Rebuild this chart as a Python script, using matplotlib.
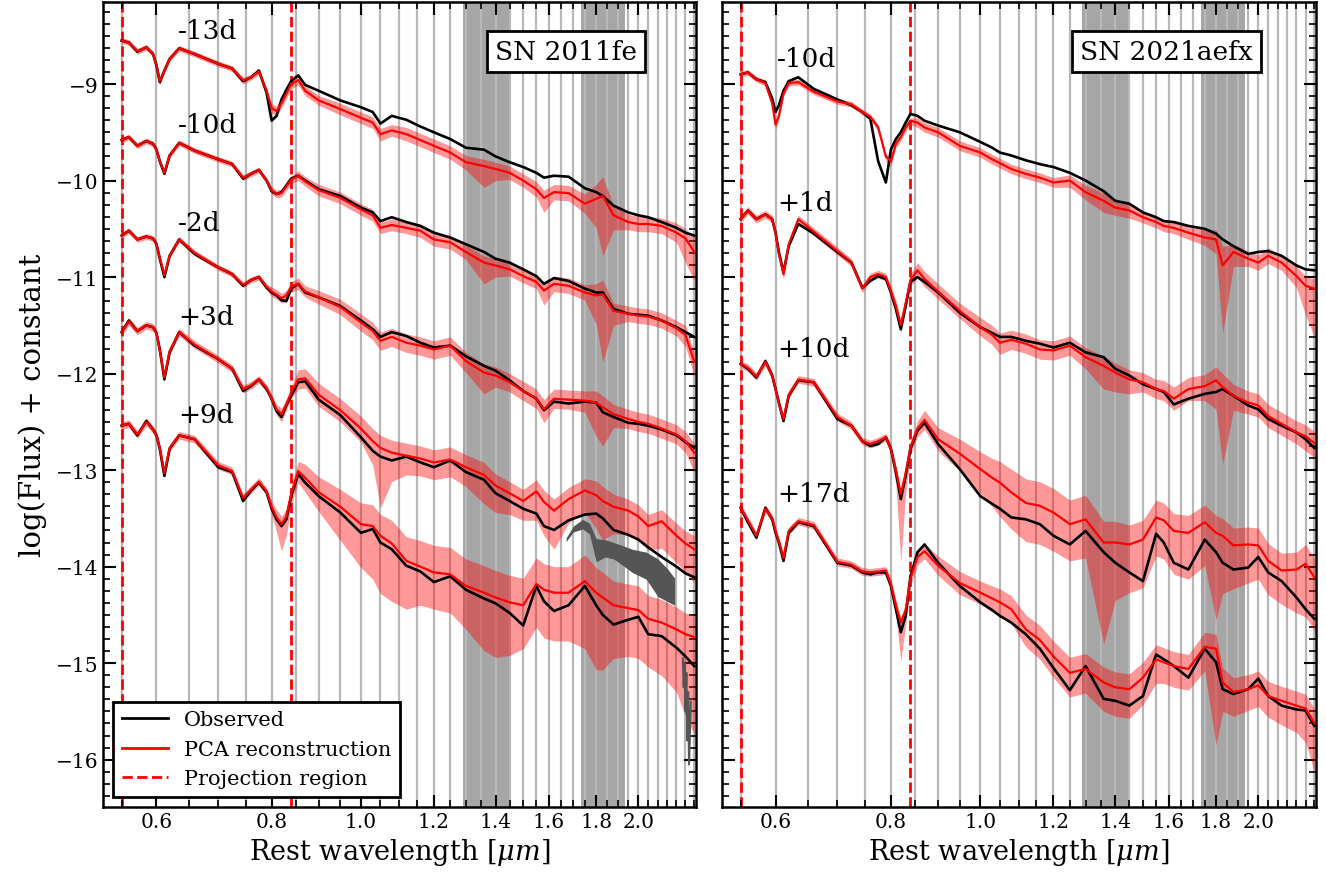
import numpy as np
import matplotlib
matplotlib.use("Agg")
import matplotlib.pyplot as plt
from matplotlib.lines import Line2D
from matplotlib.ticker import FixedLocator, FuncFormatter, MultipleLocator, NullFormatter

plt.rcParams['font.family'] = ['DejaVu Serif']
plt.rcParams['mathtext.fontset'] = 'dejavuserif'

# ---------------- data ----------------
lam = [0.55, 0.56, 0.572, 0.585, 0.595, 0.60, 0.605, 0.612, 0.62, 0.635,
       0.66, 0.70, 0.725, 0.745, 0.76, 0.775, 0.79, 0.80, 0.81, 0.82,
       0.83, 0.84, 0.855, 0.87, 0.90, 0.95, 1.00, 1.03, 1.05, 1.08,
       1.12, 1.16, 1.20, 1.25, 1.30, 1.36, 1.40, 1.45, 1.50, 1.55,
       1.58, 1.62, 1.68, 1.75, 1.80, 1.83, 1.88, 1.95, 2.00, 2.05,
       2.12, 2.20, 2.25, 2.30]

# SN 2011fe
fe_m13_obs = [-8.55, -8.57, -8.665, -8.62, -8.69, -8.81, -8.98, -8.86, -8.74, -8.63,
              -8.69, -8.79, -8.84, -8.97, -8.93, -8.86, -9.09, -9.38, -9.33, -9.16,
              -9.06, -8.97, -8.91, -9.01, -9.07, -9.17, -9.24, -9.29, -9.41, -9.33,
              -9.37, -9.44, -9.50, -9.57, -9.66, -9.68, -9.75, -9.81, -9.86, -9.92,
              -9.97, -9.95, -9.96, -10.08, -10.12, -10.16, -10.26, -10.33, -10.36, -10.38,
              -10.43, -10.49, -10.54, -10.57]
fe_m13_pca = [-8.55, -8.57, -8.66, -8.62, -8.69, -8.80, -8.97, -8.86, -8.74, -8.63,
              -8.69, -8.79, -8.84, -8.96, -8.93, -8.87, -9.07, -9.25, -9.28, -9.20,
              -9.10, -9.00, -8.96, -9.07, -9.17, -9.26, -9.35, -9.40, -9.52, -9.48,
              -9.52, -9.58, -9.64, -9.71, -9.81, -9.85, -9.88, -9.92, -10.00, -10.09,
              -10.18, -10.12, -10.13, -10.24, -10.19, -10.16, -10.36, -10.43, -10.45, -10.45,
              -10.47, -10.54, -10.60, -10.74]
fe_m13_lo = [0.03, 0.03, 0.03, 0.03, 0.03, 0.03, 0.04, 0.03, 0.03, 0.03,
             0.03, 0.03, 0.03, 0.04, 0.03, 0.03, 0.04, 0.05, 0.05, 0.05,
             0.05, 0.05, 0.05, 0.05, 0.05, 0.06, 0.06, 0.06, 0.07, 0.06,
             0.07, 0.07, 0.07, 0.07, 0.08, 0.22, 0.12, 0.07, 0.07, 0.08,
             0.15, 0.08, 0.08, 0.10, 0.30, 0.62, 0.15, 0.08, 0.08, 0.08,
             0.08, 0.10, 0.25, 0.30]
fe_m13_hi = [0.03, 0.03, 0.03, 0.03, 0.03, 0.03, 0.03, 0.03, 0.03, 0.03,
             0.03, 0.03, 0.03, 0.03, 0.03, 0.03, 0.03, 0.05, 0.05, 0.05,
             0.05, 0.05, 0.05, 0.05, 0.05, 0.06, 0.06, 0.06, 0.06, 0.06,
             0.07, 0.07, 0.07, 0.07, 0.07, 0.07, 0.07, 0.07, 0.07, 0.08,
             0.08, 0.08, 0.08, 0.10, 0.15, 0.20, 0.10, 0.08, 0.08, 0.08,
             0.08, 0.10, 0.10, 0.15]

fe_m10_obs = [-9.58, -9.55, -9.64, -9.59, -9.62, -9.68, -9.80, -9.93, -9.74, -9.61,
              -9.69, -9.78, -9.83, -9.98, -9.93, -9.89, -10.00, -10.11, -10.14, -10.12,
              -10.05, -9.98, -9.95, -10.00, -10.09, -10.16, -10.28, -10.33, -10.42, -10.38,
              -10.43, -10.47, -10.54, -10.59, -10.66, -10.74, -10.81, -10.85, -10.92, -10.99,
              -11.07, -11.01, -11.04, -11.12, -11.16, -11.16, -11.33, -11.38, -11.39, -11.40,
              -11.45, -11.52, -11.57, -11.62]
fe_m10_pca = [-9.58, -9.55, -9.64, -9.59, -9.62, -9.68, -9.80, -9.92, -9.74, -9.61,
              -9.69, -9.78, -9.83, -9.97, -9.93, -9.89, -10.00, -10.10, -10.14, -10.13,
              -10.06, -9.99, -9.95, -10.01, -10.10, -10.18, -10.30, -10.36, -10.49, -10.46,
              -10.49, -10.52, -10.61, -10.64, -10.74, -10.85, -10.88, -10.92, -10.99, -11.05,
              -11.14, -11.07, -11.09, -11.16, -11.19, -11.18, -11.35, -11.38, -11.40, -11.41,
              -11.45, -11.53, -11.60, -11.88]
fe_m10_lo = [0.03, 0.03, 0.03, 0.03, 0.03, 0.03, 0.03, 0.03, 0.03, 0.03,
             0.03, 0.03, 0.03, 0.03, 0.03, 0.03, 0.03, 0.04, 0.04, 0.04,
             0.04, 0.04, 0.05, 0.05, 0.06, 0.06, 0.06, 0.06, 0.06, 0.06,
             0.06, 0.07, 0.07, 0.07, 0.08, 0.22, 0.12, 0.07, 0.07, 0.07,
             0.15, 0.08, 0.08, 0.08, 0.30, 0.70, 0.15, 0.08, 0.08, 0.08,
             0.08, 0.08, 0.12, 0.15]
fe_m10_hi = [0.03, 0.03, 0.03, 0.03, 0.03, 0.03, 0.03, 0.03, 0.03, 0.03,
             0.03, 0.03, 0.03, 0.03, 0.03, 0.03, 0.03, 0.04, 0.04, 0.04,
             0.04, 0.04, 0.05, 0.05, 0.06, 0.06, 0.06, 0.06, 0.06, 0.06,
             0.06, 0.07, 0.07, 0.07, 0.07, 0.07, 0.07, 0.07, 0.07, 0.07,
             0.07, 0.08, 0.08, 0.08, 0.12, 0.15, 0.08, 0.08, 0.08, 0.08,
             0.08, 0.08, 0.10, 0.10]

fe_m2_obs = [-10.57, -10.52, -10.61, -10.58, -10.60, -10.66, -10.81, -11.00, -10.78, -10.61,
             -10.76, -10.90, -10.97, -11.09, -11.03, -11.00, -11.11, -11.16, -11.19, -11.24,
             -11.25, -11.12, -11.07, -11.16, -11.21, -11.30, -11.45, -11.54, -11.62, -11.57,
             -11.61, -11.68, -11.73, -11.71, -11.82, -11.92, -11.97, -12.07, -12.18, -12.26,
             -12.38, -12.29, -12.31, -12.29, -12.30, -12.40, -12.45, -12.51, -12.52, -12.54,
             -12.58, -12.64, -12.71, -12.77]
fe_m2_pca = [-10.57, -10.52, -10.61, -10.58, -10.60, -10.66, -10.80, -10.98, -10.78, -10.61,
             -10.75, -10.90, -10.97, -11.08, -11.03, -11.00, -11.10, -11.15, -11.18, -11.22,
             -11.19, -11.10, -11.07, -11.15, -11.21, -11.31, -11.47, -11.56, -11.66, -11.62,
             -11.68, -11.71, -11.75, -11.71, -11.87, -11.99, -12.02, -12.09, -12.18, -12.26,
             -12.37, -12.26, -12.27, -12.28, -12.30, -12.35, -12.42, -12.47, -12.50, -12.52,
             -12.57, -12.63, -12.70, -12.82]
fe_m2_lo = [0.03, 0.03, 0.03, 0.03, 0.03, 0.03, 0.03, 0.03, 0.03, 0.03,
            0.03, 0.03, 0.03, 0.03, 0.03, 0.03, 0.03, 0.05, 0.05, 0.05,
            0.05, 0.05, 0.06, 0.06, 0.07, 0.08, 0.09, 0.09, 0.10, 0.10,
            0.10, 0.10, 0.10, 0.10, 0.12, 0.22, 0.12, 0.10, 0.10, 0.10,
            0.14, 0.10, 0.10, 0.12, 0.35, 0.40, 0.14, 0.10, 0.10, 0.10,
            0.10, 0.10, 0.12, 0.20]
fe_m2_hi = [0.03, 0.03, 0.03, 0.03, 0.03, 0.03, 0.03, 0.03, 0.03, 0.03,
            0.03, 0.03, 0.03, 0.03, 0.03, 0.03, 0.03, 0.05, 0.05, 0.05,
            0.05, 0.05, 0.06, 0.06, 0.07, 0.08, 0.09, 0.09, 0.09, 0.09,
            0.09, 0.09, 0.09, 0.09, 0.09, 0.09, 0.09, 0.09, 0.10, 0.10,
            0.10, 0.10, 0.10, 0.10, 0.12, 0.12, 0.10, 0.10, 0.10, 0.10,
            0.10, 0.10, 0.10, 0.10]

fe_p3_obs = [-11.57, -11.45, -11.56, -11.50, -11.52, -11.58, -11.75, -12.06, -11.78, -11.57,
             -11.71, -11.85, -11.95, -12.18, -12.13, -12.06, -12.16, -12.26, -12.39, -12.45,
             -12.33, -12.23, -12.09, -12.08, -12.27, -12.43, -12.66, -12.80, -12.86, -12.90,
             -12.86, -12.92, -12.97, -12.90, -13.02, -13.10, -13.24, -13.32, -13.40, -13.45,
             -13.58, -13.62, -13.52, -13.46, -13.45, -13.50, -13.62, -13.67, -13.72, -13.80,
             -13.90, -14.00, -14.07, -14.11]
fe_p3_pca = [-11.57, -11.46, -11.56, -11.50, -11.52, -11.58, -11.76, -12.04, -11.77, -11.57,
             -11.70, -11.85, -11.95, -12.16, -12.12, -12.06, -12.15, -12.26, -12.37, -12.42,
             -12.32, -12.20, -12.06, -12.05, -12.22, -12.38, -12.57, -12.70, -12.77, -12.82,
             -12.85, -12.88, -12.92, -12.89, -12.97, -13.05, -13.16, -13.24, -13.32, -13.22,
             -13.33, -13.42, -13.30, -13.21, -13.26, -13.32, -13.38, -13.42, -13.48, -13.58,
             -13.53, -13.68, -13.76, -13.82]
fe_p3_lo = [0.04, 0.04, 0.04, 0.04, 0.04, 0.04, 0.04, 0.04, 0.04, 0.04,
            0.04, 0.04, 0.04, 0.04, 0.04, 0.04, 0.04, 0.05, 0.06, 0.08,
            0.06, 0.06, 0.10, 0.10, 0.12, 0.12, 0.14, 0.25, 0.62, 0.30,
            0.20, 0.18, 0.18, 0.18, 0.20, 0.30, 0.28, 0.22, 0.20, 0.30,
            0.35, 0.40, 0.25, 0.22, 0.35, 0.40, 0.28, 0.25, 0.25, 0.25,
            0.28, 0.28, 0.30, 0.35]
fe_p3_hi = [0.04, 0.04, 0.04, 0.04, 0.04, 0.04, 0.04, 0.04, 0.04, 0.04,
            0.04, 0.04, 0.04, 0.04, 0.04, 0.04, 0.04, 0.05, 0.05, 0.06,
            0.06, 0.06, 0.10, 0.10, 0.12, 0.12, 0.13, 0.13, 0.13, 0.13,
            0.13, 0.13, 0.13, 0.13, 0.13, 0.13, 0.12, 0.12, 0.12, 0.12,
            0.12, 0.12, 0.12, 0.12, 0.15, 0.15, 0.13, 0.12, 0.12, 0.12,
            0.12, 0.13, 0.13, 0.14]

fe_p9_obs = [-12.54, -12.52, -12.64, -12.49, -12.58, -12.64, -12.78, -13.06, -12.78, -12.64,
             -12.68, -12.97, -13.02, -13.32, -13.21, -13.13, -13.23, -13.40, -13.51, -13.58,
             -13.51, -13.27, -13.04, -13.13, -13.27, -13.44, -13.65, -13.61, -13.75, -13.82,
             -13.99, -14.05, -14.16, -14.10, -14.24, -14.33, -14.38, -14.48, -14.61, -14.20,
             -14.36, -14.46, -14.40, -14.20, -14.40, -14.50, -14.60, -14.55, -14.52, -14.70,
             -14.72, -14.84, -14.93, -15.03]
fe_p9_pca = [-12.54, -12.52, -12.63, -12.50, -12.58, -12.64, -12.77, -13.03, -12.77, -12.64,
             -12.68, -12.95, -13.01, -13.29, -13.20, -13.12, -13.22, -13.38, -13.49, -13.56,
             -13.48, -13.25, -13.01, -13.08, -13.23, -13.38, -13.56, -13.58, -13.68, -13.76,
             -13.94, -14.00, -14.06, -14.08, -14.20, -14.27, -14.32, -14.37, -14.40, -14.18,
             -14.24, -14.27, -14.27, -14.15, -14.27, -14.32, -14.40, -14.43, -14.45, -14.54,
             -14.58, -14.65, -14.70, -14.73]
fe_p9_lo = [0.04, 0.04, 0.04, 0.04, 0.04, 0.04, 0.04, 0.04, 0.04, 0.04,
            0.04, 0.04, 0.04, 0.04, 0.04, 0.04, 0.04, 0.08, 0.15, 0.28,
            0.20, 0.10, 0.12, 0.15, 0.20, 0.35, 0.45, 0.55, 0.60, 0.60,
            0.50, 0.40, 0.38, 0.40, 0.45, 0.60, 0.62, 0.55, 0.45, 0.45,
            0.50, 0.50, 0.50, 0.70, 0.80, 0.75, 0.55, 0.50, 0.50, 0.50,
            0.55, 0.65, 0.85, 1.00]
fe_p9_hi = [0.04, 0.04, 0.04, 0.04, 0.04, 0.04, 0.04, 0.04, 0.04, 0.04,
            0.04, 0.04, 0.04, 0.04, 0.04, 0.04, 0.04, 0.06, 0.08, 0.08,
            0.08, 0.08, 0.10, 0.14, 0.16, 0.18, 0.22, 0.22, 0.22, 0.24,
            0.25, 0.27, 0.28, 0.28, 0.28, 0.28, 0.28, 0.28, 0.28, 0.27,
            0.27, 0.27, 0.27, 0.27, 0.26, 0.26, 0.25, 0.25, 0.25, 0.24,
            0.24, 0.23, 0.22, 0.22]

# observed flux in telluric-affected part (dark grey) for SN 2011fe +3d
fe_tell_lam = [1.67, 1.70, 1.74, 1.77, 1.80, 1.84, 1.88, 1.92, 1.97, 2.04, 2.10, 2.15, 2.19]
fe_tell_hi = [-13.70, -13.58, -13.51, -13.55, -13.71, -13.72, -13.75, -13.78, -13.82, -13.85, -13.92, -14.02, -14.12]
fe_tell_lo = [-13.74, -13.64, -13.61, -13.66, -13.95, -13.90, -13.92, -13.98, -14.06, -14.13, -14.31, -14.36, -14.40]
# noisy observed end of SN 2011fe +9d
fe_tail_lam = [2.235, 2.24, 2.245, 2.25, 2.255, 2.26, 2.265, 2.27, 2.28]
fe_tail_val = [-14.95, -15.25, -15.00, -15.50, -15.10, -15.80, -15.30, -16.05, -15.40]

# SN 2021aefx
ae_m10_obs = [-8.90, -8.88, -8.95, -8.98, -9.15, -9.29, -9.22, -9.07, -8.97, -8.93,
              -9.05, -9.16, -9.22, -9.29, -9.36, -9.80, -10.02, -9.68, -9.57, -9.50,
              -9.40, -9.31, -9.33, -9.38, -9.43, -9.50, -9.60, -9.66, -9.71, -9.74,
              -9.79, -9.83, -9.86, -9.92, -10.00, -10.11, -10.21, -10.24, -10.33, -10.38,
              -10.42, -10.43, -10.47, -10.50, -10.55, -10.61, -10.68, -10.76, -10.74, -10.73,
              -10.78, -10.88, -10.92, -10.93]
ae_m10_pca = [-8.90, -8.88, -8.95, -8.99, -9.20, -9.42, -9.33, -9.10, -8.99, -8.98,
              -9.08, -9.18, -9.21, -9.29, -9.34, -9.45, -9.75, -9.80, -9.62, -9.55,
              -9.45, -9.38, -9.40, -9.45, -9.50, -9.64, -9.71, -9.78, -9.82, -9.88,
              -9.93, -9.97, -10.02, -10.00, -10.12, -10.21, -10.28, -10.31, -10.38, -10.43,
              -10.47, -10.49, -10.54, -10.59, -10.61, -10.88, -10.74, -10.81, -10.85, -10.78,
              -10.85, -10.99, -11.09, -11.12]
ae_m10_lo = [0.03, 0.03, 0.03, 0.03, 0.04, 0.05, 0.04, 0.03, 0.03, 0.03,
             0.03, 0.03, 0.03, 0.03, 0.03, 0.04, 0.05, 0.05, 0.04, 0.04,
             0.04, 0.04, 0.05, 0.05, 0.05, 0.05, 0.05, 0.05, 0.05, 0.05,
             0.05, 0.05, 0.05, 0.07, 0.08, 0.12, 0.08, 0.08, 0.06, 0.06,
             0.06, 0.06, 0.07, 0.08, 0.15, 0.70, 0.15, 0.08, 0.08, 0.08,
             0.08, 0.12, 0.30, 0.50]
ae_m10_hi = [0.03, 0.03, 0.03, 0.03, 0.03, 0.03, 0.03, 0.03, 0.03, 0.03,
             0.03, 0.03, 0.03, 0.03, 0.03, 0.03, 0.03, 0.03, 0.03, 0.03,
             0.03, 0.03, 0.05, 0.05, 0.05, 0.05, 0.05, 0.05, 0.05, 0.05,
             0.05, 0.05, 0.05, 0.06, 0.07, 0.08, 0.07, 0.07, 0.06, 0.06,
             0.06, 0.06, 0.06, 0.08, 0.10, 0.20, 0.08, 0.08, 0.08, 0.08,
             0.08, 0.10, 0.10, 0.10]

ae_p1_obs = [-10.40, -10.31, -10.40, -10.35, -10.40, -10.54, -10.74, -10.95, -10.68, -10.45,
             -10.55, -10.74, -10.85, -11.11, -11.04, -10.99, -11.02, -11.16, -11.33, -11.54,
             -11.30, -11.05, -11.00, -11.05, -11.16, -11.37, -11.52, -11.58, -11.62, -11.62,
             -11.66, -11.69, -11.73, -11.68, -11.78, -11.83, -11.95, -12.02, -12.11, -12.16,
             -12.19, -12.32, -12.26, -12.21, -12.19, -12.16, -12.23, -12.33, -12.37, -12.47,
             -12.54, -12.61, -12.68, -12.77]
ae_p1_pca = [-10.40, -10.31, -10.40, -10.35, -10.40, -10.54, -10.76, -10.97, -10.66, -10.40,
             -10.53, -10.73, -10.85, -11.12, -11.00, -10.97, -11.00, -11.15, -11.30, -11.50,
             -11.27, -11.03, -10.93, -11.02, -11.15, -11.35, -11.52, -11.60, -11.68, -11.65,
             -11.69, -11.75, -11.76, -11.71, -11.83, -11.92, -11.99, -12.06, -12.09, -12.16,
             -12.18, -12.26, -12.16, -12.13, -12.07, -12.14, -12.23, -12.30, -12.33, -12.44,
             -12.52, -12.61, -12.65, -12.72]
ae_p1_lo = [0.04, 0.04, 0.04, 0.04, 0.04, 0.04, 0.04, 0.05, 0.04, 0.04,
            0.04, 0.04, 0.04, 0.04, 0.04, 0.04, 0.04, 0.05, 0.06, 0.08,
            0.06, 0.06, 0.08, 0.08, 0.08, 0.08, 0.09, 0.10, 0.12, 0.10,
            0.10, 0.10, 0.10, 0.10, 0.12, 0.24, 0.20, 0.15, 0.10, 0.10,
            0.10, 0.12, 0.12, 0.15, 0.30, 0.80, 0.15, 0.12, 0.12, 0.12,
            0.12, 0.12, 0.15, 0.15]
ae_p1_hi = [0.04, 0.04, 0.04, 0.04, 0.04, 0.04, 0.04, 0.04, 0.04, 0.04,
            0.04, 0.04, 0.04, 0.04, 0.04, 0.04, 0.04, 0.06, 0.06, 0.06,
            0.06, 0.06, 0.08, 0.08, 0.08, 0.08, 0.10, 0.10, 0.10, 0.10,
            0.10, 0.10, 0.10, 0.10, 0.10, 0.10, 0.10, 0.10, 0.10, 0.10,
            0.11, 0.12, 0.12, 0.12, 0.14, 0.14, 0.12, 0.12, 0.12, 0.12,
            0.12, 0.12, 0.12, 0.12]

ae_p10_obs = [-11.90, -11.95, -12.04, -11.87, -12.02, -12.16, -12.30, -12.49, -12.23, -12.07,
              -12.09, -12.47, -12.54, -12.70, -12.75, -12.73, -12.66, -12.78, -13.02, -13.30,
              -13.06, -12.78, -12.59, -12.51, -12.73, -12.99, -13.27, -13.35, -13.40, -13.49,
              -13.51, -13.56, -13.68, -13.77, -13.63, -13.85, -13.96, -14.06, -14.15, -13.66,
              -13.75, -13.96, -14.03, -13.72, -13.85, -13.96, -14.03, -14.01, -13.90, -14.06,
              -14.15, -14.32, -14.44, -14.54]
ae_p10_pca = [-11.90, -11.94, -12.03, -11.88, -12.02, -12.16, -12.31, -12.47, -12.22, -12.06,
              -12.09, -12.45, -12.54, -12.70, -12.73, -12.70, -12.66, -12.78, -13.00, -13.25,
              -13.03, -12.76, -12.57, -12.48, -12.68, -12.83, -12.99, -13.08, -13.13, -13.23,
              -13.34, -13.37, -13.44, -13.56, -13.51, -13.75, -13.75, -13.77, -13.72, -13.49,
              -13.52, -13.63, -13.65, -13.54, -13.65, -13.68, -13.78, -13.77, -13.78, -13.94,
              -14.04, -14.03, -13.97, -14.11]
ae_p10_lo = [0.04, 0.04, 0.04, 0.04, 0.04, 0.04, 0.04, 0.05, 0.04, 0.04,
             0.04, 0.04, 0.04, 0.04, 0.04, 0.04, 0.04, 0.06, 0.15, 0.70,
             0.20, 0.08, 0.08, 0.10, 0.12, 0.18, 0.25, 0.30, 0.35, 0.38,
             0.40, 0.40, 0.40, 0.38, 0.40, 1.05, 0.60, 0.50, 0.50, 0.40,
             0.40, 0.45, 0.48, 0.45, 0.90, 0.60, 0.45, 0.40, 0.35, 0.35,
             0.35, 0.45, 0.55, 0.55]
ae_p10_hi = [0.04, 0.04, 0.04, 0.04, 0.04, 0.04, 0.04, 0.04, 0.04, 0.04,
             0.04, 0.04, 0.04, 0.04, 0.04, 0.04, 0.04, 0.05, 0.05, 0.05,
             0.05, 0.05, 0.08, 0.10, 0.12, 0.15, 0.18, 0.20, 0.22, 0.24,
             0.25, 0.25, 0.25, 0.25, 0.25, 0.22, 0.22, 0.20, 0.20, 0.18,
             0.18, 0.18, 0.18, 0.18, 0.18, 0.18, 0.18, 0.18, 0.18, 0.18,
             0.18, 0.18, 0.20, 0.20]

ae_p17_obs = [-13.39, -13.54, -13.70, -13.39, -13.51, -13.65, -13.75, -13.94, -13.65, -13.54,
              -13.58, -13.96, -13.99, -14.06, -14.08, -14.06, -14.06, -14.20, -14.44, -14.68,
              -14.51, -14.10, -13.85, -13.77, -13.96, -14.20, -14.37, -14.45, -14.51, -14.58,
              -14.70, -14.85, -15.05, -15.28, -15.03, -15.37, -15.39, -15.44, -15.34, -14.91,
              -14.96, -15.03, -15.15, -14.85, -14.99, -15.27, -15.32, -15.27, -15.16, -15.34,
              -15.44, -15.48, -15.49, -15.65]
ae_p17_pca = [-13.39, -13.52, -13.68, -13.40, -13.50, -13.63, -13.74, -13.91, -13.63, -13.53,
              -13.57, -13.95, -13.98, -14.05, -14.06, -14.05, -14.04, -14.18, -14.40, -14.58,
              -14.45, -14.12, -13.90, -13.84, -13.99, -14.17, -14.27, -14.33, -14.37, -14.44,
              -14.65, -14.76, -14.93, -15.10, -15.06, -15.20, -15.25, -15.27, -15.15, -14.96,
              -14.99, -15.03, -15.06, -14.83, -14.85, -15.20, -15.30, -15.27, -15.23, -15.34,
              -15.39, -15.44, -15.47, -15.62]
ae_p17_lo = [0.04, 0.04, 0.04, 0.04, 0.04, 0.04, 0.04, 0.05, 0.04, 0.04,
             0.04, 0.04, 0.04, 0.04, 0.04, 0.04, 0.04, 0.06, 0.10, 0.40,
             0.15, 0.08, 0.08, 0.08, 0.10, 0.12, 0.12, 0.14, 0.15, 0.15,
             0.18, 0.20, 0.22, 0.25, 0.25, 0.30, 0.30, 0.30, 0.28, 0.25,
             0.22, 0.22, 0.22, 0.25, 1.00, 0.30, 0.25, 0.22, 0.22, 0.22,
             0.25, 0.28, 0.35, 0.50]
ae_p17_hi = [0.04, 0.04, 0.04, 0.04, 0.04, 0.04, 0.04, 0.04, 0.04, 0.04,
             0.04, 0.04, 0.04, 0.04, 0.04, 0.04, 0.04, 0.06, 0.06, 0.06,
             0.06, 0.06, 0.08, 0.08, 0.10, 0.12, 0.12, 0.13, 0.14, 0.14,
             0.15, 0.15, 0.16, 0.16, 0.16, 0.16, 0.16, 0.16, 0.16, 0.15,
             0.15, 0.15, 0.15, 0.15, 0.15, 0.15, 0.15, 0.15, 0.15, 0.15,
             0.15, 0.15, 0.15, 0.15]

fe_labels = ['-13d', '-10d', '-2d', '+3d', '+9d']
fe_label_y = [-8.45, -9.42, -10.43, -11.41, -12.42]
ae_labels = ['-10d', '+1d', '+10d', '+17d']
ae_label_y = [-8.74, -10.23, -11.74, -13.24]

names = ['SN 2011fe', 'SN 2021aefx']
proj_region = [0.55, 0.84]
telluric = [(1.29, 1.45), (1.735, 1.935)]
grid_lam = [round(0.55 + 0.05 * i, 2) for i in range(36)]
xmajor = [0.6, 0.8, 1.0, 1.2, 1.4, 1.6, 1.8, 2.0]

# ---------------- figure ----------------
fig = plt.figure(figsize=(13.26, 8.79), dpi=100)
axL = fig.add_axes([0.0777, 0.0808, 0.4472, 0.9158])
axR = fig.add_axes([0.5445, 0.0808, 0.4480, 0.9158])

fe_sets = [(fe_m13_obs, fe_m13_pca, fe_m13_lo, fe_m13_hi),
           (fe_m10_obs, fe_m10_pca, fe_m10_lo, fe_m10_hi),
           (fe_m2_obs, fe_m2_pca, fe_m2_lo, fe_m2_hi),
           (fe_p3_obs, fe_p3_pca, fe_p3_lo, fe_p3_hi),
           (fe_p9_obs, fe_p9_pca, fe_p9_lo, fe_p9_hi)]
ae_sets = [(ae_m10_obs, ae_m10_pca, ae_m10_lo, ae_m10_hi),
           (ae_p1_obs, ae_p1_pca, ae_p1_lo, ae_p1_hi),
           (ae_p10_obs, ae_p10_pca, ae_p10_lo, ae_p10_hi),
           (ae_p17_obs, ae_p17_pca, ae_p17_lo, ae_p17_hi)]

L = np.array(lam)
for ax, sets, labs, laby, name, nx in [(axL, fe_sets, fe_labels, fe_label_y, names[0], 0.781),
                                       (axR, ae_sets, ae_labels, ae_label_y, names[1], 0.748)]:
    ax.set_xscale('log')
    for a, b in telluric:
        ax.axvspan(a, b, color='gray', alpha=0.7, lw=0, zorder=0.8)
    for g in grid_lam:
        ax.axvline(g, color='#b8b8b8', lw=1.6, zorder=1)
    for p in proj_region:
        ax.axvline(p, color='red', ls='--', lw=2, zorder=1.5)
    for obs, pca, lo, hi in sets:
        pca_a = np.array(pca)
        ax.fill_between(L, pca_a - np.array(lo), pca_a + np.array(hi),
                        color='red', alpha=0.4, lw=0, zorder=2)
        ax.plot(L, obs, color='black', lw=1.9, zorder=3)
        ax.plot(L, pca, color='red', lw=1.6, zorder=4)
    for t, y in zip(labs, laby):
        ax.text(0.633 if ax is axL else 0.602, y, t, fontsize=19, ha='left', va='center', zorder=6)
    ax.text(nx, 0.938, name, transform=ax.transAxes, ha='center', va='center', fontsize=19,
            zorder=7, bbox=dict(boxstyle='square,pad=0.3', fc='white', ec='black', lw=2))

    ax.set_xlim(0.525, 2.31)
    ax.set_ylim(-16.49, -8.15)
    ax.xaxis.set_major_locator(FixedLocator(xmajor))
    ax.xaxis.set_major_formatter(FuncFormatter(lambda v, p: f'{v:.1f}'))
    ax.xaxis.set_minor_locator(FixedLocator([g for g in grid_lam if g not in xmajor]))
    ax.xaxis.set_minor_formatter(NullFormatter())
    ax.yaxis.set_major_locator(MultipleLocator(1))
    ax.yaxis.set_minor_locator(MultipleLocator(0.125))
    ax.tick_params(which='both', direction='in', top=True, right=True, labelsize=14.5)
    ax.tick_params(which='major', length=9, width=1.5)
    ax.tick_params(which='minor', length=5, width=1.2)
    for s in ax.spines.values():
        s.set_linewidth(1.8)
        s.set_zorder(8)
    ax.set_xlabel('Rest wavelength [$\\mu m$]', fontsize=19.5)

axL.fill_between(fe_tell_lam, fe_tell_lo, fe_tell_hi, color='#555555', lw=0, zorder=2.5)
axL.plot(fe_tail_lam, fe_tail_val, color='#555555', lw=1.5, zorder=2.5)

axR.tick_params(labelleft=False)
axL.set_ylabel('log(Flux) + constant', fontsize=21, labelpad=6)

handles = [Line2D([], [], color='black', lw=2),
           Line2D([], [], color='red', lw=2),
           Line2D([], [], color='red', lw=2, ls='--')]
leg = axL.legend(handles, ['Observed', 'PCA reconstruction', 'Projection region'],
                 loc='lower left', fontsize=15, fancybox=False, framealpha=1,
                 edgecolor='black', handlelength=2.2)
leg.get_frame().set_linewidth(2)
leg.set_zorder(9)

fig.savefig('out.png', dpi=100)
